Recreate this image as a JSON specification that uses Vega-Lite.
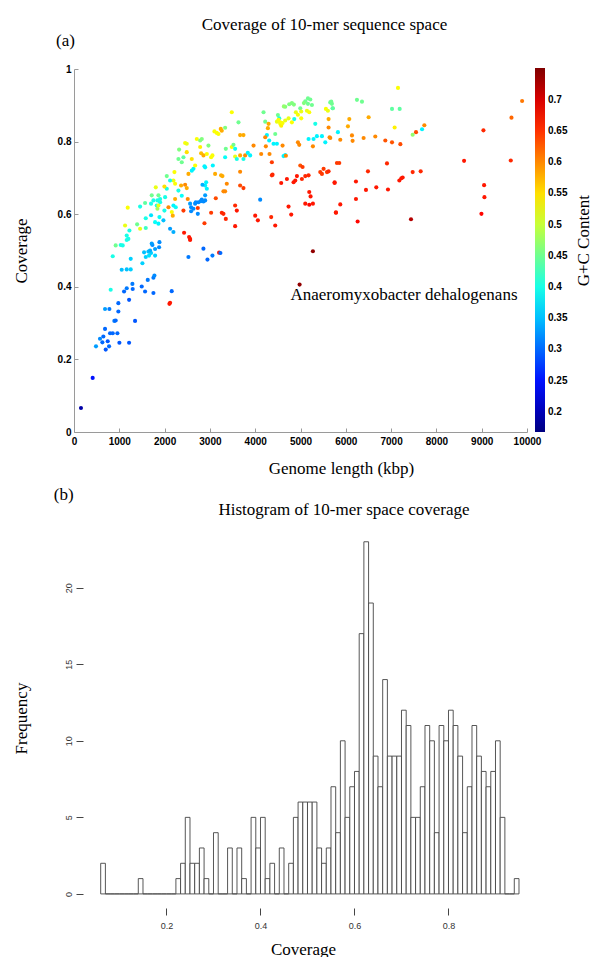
{
  "$schema": "https://vega.github.io/schema/vega-lite/v6.json",
  "background": "white",
  "padding": {"left": 12, "top": 15, "right": 0, "bottom": 0},
  "columns": 1,
  "align": "none",
  "spacing": 9,
  "config": {
    "view": {"stroke": null},
    "font": "Liberation Serif",
    "title": {"font": "Liberation Serif", "fontSize": 17, "fontWeight": "normal", "color": "black"},
    "axis": {"titleFont": "Liberation Serif", "titleFontSize": 17, "titleFontWeight": "normal", "titleColor": "black", "grid": false}
  },
  "datasets": {
    "genomes": [
      {"len":154,"cov":0.066,"gc":0.19},{"len":412,"cov":0.149,"gc":0.25},{"len":485,"cov":0.236,"gc":0.33},{"len":574,"cov":0.257,"gc":0.32},{"len":626,"cov":0.247,"gc":0.30},{"len":648,"cov":0.263,"gc":0.30},{"len":685,"cov":0.284,"gc":0.30},{"len":700,"cov":0.227,"gc":0.29},{"len":744,"cov":0.250,"gc":0.29},{"len":774,"cov":0.236,"gc":0.30},{"len":796,"cov":0.272,"gc":0.30},{"len":855,"cov":0.272,"gc":0.30},{"len":958,"cov":0.272,"gc":0.30},{"len":1002,"cov":0.246,"gc":0.29},{"len":1216,"cov":0.246,"gc":0.29},{"len":685,"cov":0.339,"gc":0.33},{"len":781,"cov":0.339,"gc":0.31},{"len":891,"cov":0.306,"gc":0.31},{"len":920,"cov":0.307,"gc":0.30},{"len":979,"cov":0.332,"gc":0.30},{"len":979,"cov":0.355,"gc":0.30},{"len":810,"cov":0.392,"gc":0.40},{"len":1105,"cov":0.387,"gc":0.30},{"len":1164,"cov":0.396,"gc":0.31},{"len":1216,"cov":0.364,"gc":0.29},{"len":1289,"cov":0.408,"gc":0.31},{"len":1296,"cov":0.394,"gc":0.30},{"len":1348,"cov":0.306,"gc":0.29},{"len":1495,"cov":0.401,"gc":0.30},{"len":1569,"cov":0.387,"gc":0.30},{"len":1628,"cov":0.419,"gc":0.31},{"len":1753,"cov":0.425,"gc":0.31},{"len":1775,"cov":0.431,"gc":0.32},{"len":1753,"cov":0.383,"gc":0.30},{"len":2157,"cov":0.388,"gc":0.30},{"len":2106,"cov":0.353,"gc":0.665},{"len":2121,"cov":0.356,"gc":0.665},{"len":1053,"cov":0.447,"gc":0.35},{"len":1164,"cov":0.448,"gc":0.35},{"len":1252,"cov":0.448,"gc":0.36},{"len":1252,"cov":0.477,"gc":0.36},{"len":1510,"cov":0.465,"gc":0.36},{"len":1584,"cov":0.482,"gc":0.36},{"len":1547,"cov":0.495,"gc":0.35},{"len":1643,"cov":0.497,"gc":0.35},{"len":1657,"cov":0.486,"gc":0.37},{"len":1701,"cov":0.493,"gc":0.36},{"len":1731,"cov":0.515,"gc":0.32},{"len":1790,"cov":0.504,"gc":0.33},{"len":1878,"cov":0.509,"gc":0.32},{"len":1886,"cov":0.523,"gc":0.32},{"len":1790,"cov":0.486,"gc":0.36},{"len":855,"cov":0.484,"gc":0.40},{"len":920,"cov":0.514,"gc":0.45},{"len":1031,"cov":0.515,"gc":0.40},{"len":1075,"cov":0.514,"gc":0.40},{"len":1164,"cov":0.529,"gc":0.40},{"len":2526,"cov":0.482,"gc":0.31},{"len":2563,"cov":0.529,"gc":0.665},{"len":2857,"cov":0.505,"gc":0.30},{"len":2946,"cov":0.475,"gc":0.30},{"len":3056,"cov":0.486,"gc":0.31},{"len":3203,"cov":0.494,"gc":0.665},{"len":3232,"cov":0.493,"gc":0.30},{"len":4980,"cov":0.406,"gc":0.74},{"len":5274,"cov":0.498,"gc":0.74},
      {"len":1127,"cov":0.569,"gc":0.52},{"len":1223,"cov":0.555,"gc":0.40},{"len":1164,"cov":0.541,"gc":0.40},{"len":1200,"cov":0.532,"gc":0.40},{"len":1186,"cov":0.618,"gc":0.53},{"len":1393,"cov":0.572,"gc":0.45},{"len":1459,"cov":0.560,"gc":0.52},{"len":1459,"cov":0.621,"gc":0.40},{"len":1569,"cov":0.631,"gc":0.44},{"len":1584,"cov":0.562,"gc":0.42},{"len":1584,"cov":0.589,"gc":0.40},{"len":1701,"cov":0.597,"gc":0.37},{"len":1716,"cov":0.519,"gc":0.33},{"len":1679,"cov":0.500,"gc":0.34},{"len":1790,"cov":0.578,"gc":0.39},{"len":1864,"cov":0.574,"gc":0.38},{"len":1886,"cov":0.592,"gc":0.39},{"len":1701,"cov":0.629,"gc":0.40},{"len":1753,"cov":0.638,"gc":0.40},{"len":1827,"cov":0.624,"gc":0.40},{"len":1842,"cov":0.638,"gc":0.40},{"len":1901,"cov":0.633,"gc":0.40},{"len":1901,"cov":0.642,"gc":0.40},{"len":1716,"cov":0.652,"gc":0.45},{"len":1805,"cov":0.674,"gc":0.52},{"len":1864,"cov":0.652,"gc":0.45},{"len":1842,"cov":0.615,"gc":0.48},{"len":1864,"cov":0.624,"gc":0.52},{"len":1996,"cov":0.610,"gc":0.40},{"len":2011,"cov":0.647,"gc":0.40},{"len":2048,"cov":0.670,"gc":0.40},{"len":1974,"cov":0.583,"gc":0.35},{"len":2121,"cov":0.560,"gc":0.33},{"len":2195,"cov":0.551,"gc":0.34},{"len":2048,"cov":0.705,"gc":0.45},{"len":1996,"cov":0.676,"gc":0.55},{"len":2159,"cov":0.606,"gc":0.53},{"len":2180,"cov":0.596,"gc":0.58},{"len":2085,"cov":0.619,"gc":0.60},{"len":2246,"cov":0.619,"gc":0.39},{"len":2232,"cov":0.642,"gc":0.58},{"len":2195,"cov":0.624,"gc":0.38},{"len":2217,"cov":0.716,"gc":0.53},{"len":2195,"cov":0.693,"gc":0.52},{"len":2121,"cov":0.693,"gc":0.40},{"len":2232,"cov":0.684,"gc":0.53},{"len":2305,"cov":0.752,"gc":0.45},{"len":2320,"cov":0.778,"gc":0.46},{"len":2416,"cov":0.757,"gc":0.44},{"len":2379,"cov":0.743,"gc":0.45},{"len":2453,"cov":0.796,"gc":0.53},{"len":2489,"cov":0.794,"gc":0.52},{"len":2489,"cov":0.771,"gc":0.55},{"len":2305,"cov":0.665,"gc":0.40},{"len":2364,"cov":0.679,"gc":0.58},{"len":2453,"cov":0.681,"gc":0.60},{"len":2379,"cov":0.651,"gc":0.39},{"len":2489,"cov":0.672,"gc":0.58},{"len":2511,"cov":0.642,"gc":0.60},{"len":2416,"cov":0.610,"gc":0.645},{"len":2430,"cov":0.549,"gc":0.665},{"len":2541,"cov":0.537,"gc":0.665},{"len":2563,"cov":0.532,"gc":0.665},{"len":2563,"cov":0.629,"gc":0.33},{"len":2637,"cov":0.615,"gc":0.32},{"len":2585,"cov":0.608,"gc":0.32},{"len":2674,"cov":0.629,"gc":0.32},{"len":2689,"cov":0.633,"gc":0.32},{"len":2733,"cov":0.601,"gc":0.32},{"len":2733,"cov":0.617,"gc":0.645},{"len":2748,"cov":0.633,"gc":0.32},{"len":2799,"cov":0.636,"gc":0.32},{"len":2821,"cov":0.640,"gc":0.32},{"len":2858,"cov":0.635,"gc":0.32},{"len":2895,"cov":0.638,"gc":0.32},{"len":2895,"cov":0.679,"gc":0.38},{"len":2836,"cov":0.681,"gc":0.34},{"len":2932,"cov":0.670,"gc":0.38},{"len":2585,"cov":0.619,"gc":0.32},{"len":2637,"cov":0.725,"gc":0.38},{"len":2600,"cov":0.720,"gc":0.38},{"len":2674,"cov":0.734,"gc":0.53},{"len":2600,"cov":0.752,"gc":0.55},{"len":2711,"cov":0.807,"gc":0.53},{"len":2785,"cov":0.803,"gc":0.46},{"len":2821,"cov":0.807,"gc":0.46},{"len":2785,"cov":0.785,"gc":0.54},{"len":2806,"cov":0.768,"gc":0.57},{"len":2858,"cov":0.762,"gc":0.58},{"len":2932,"cov":0.766,"gc":0.53},{"len":2968,"cov":0.789,"gc":0.46},{"len":2526,"cov":0.711,"gc":0.58},{"len":2895,"cov":0.729,"gc":0.38},{"len":2880,"cov":0.732,"gc":0.38},{"len":2917,"cov":0.688,"gc":0.38},{"len":2895,"cov":0.652,"gc":0.33},{"len":2880,"cov":0.575,"gc":0.645},{"len":3027,"cov":0.604,"gc":0.645},{"len":3064,"cov":0.734,"gc":0.38},{"len":3056,"cov":0.762,"gc":0.53},{"len":3027,"cov":0.757,"gc":0.53},{"len":3115,"cov":0.711,"gc":0.58},{"len":3130,"cov":0.644,"gc":0.635},{"len":3100,"cov":0.828,"gc":0.53},{"len":3152,"cov":0.824,"gc":0.53},{"len":3189,"cov":0.821,"gc":0.53},{"len":3240,"cov":0.835,"gc":0.58},{"len":3262,"cov":0.830,"gc":0.58},{"len":3336,"cov":0.838,"gc":0.46},{"len":3247,"cov":0.707,"gc":0.58},{"len":3277,"cov":0.705,"gc":0.58},{"len":3299,"cov":0.663,"gc":0.60},{"len":3336,"cov":0.663,"gc":0.60},{"len":3299,"cov":0.601,"gc":0.655},{"len":3262,"cov":0.604,"gc":0.655},{"len":3351,"cov":0.587,"gc":0.655},{"len":3336,"cov":0.757,"gc":0.39},{"len":3351,"cov":0.780,"gc":0.45},{"len":3373,"cov":0.684,"gc":0.60},{"len":3483,"cov":0.881,"gc":0.53},{"len":3631,"cov":0.853,"gc":0.45},{"len":3667,"cov":0.818,"gc":0.58},{"len":3483,"cov":0.785,"gc":0.53},{"len":3520,"cov":0.791,"gc":0.45},{"len":3557,"cov":0.780,"gc":0.39},{"len":3557,"cov":0.759,"gc":0.52},{"len":3594,"cov":0.752,"gc":0.40},{"len":3667,"cov":0.762,"gc":0.58},{"len":3667,"cov":0.717,"gc":0.60},{"len":3667,"cov":0.679,"gc":0.635},{"len":3741,"cov":0.672,"gc":0.645},{"len":3557,"cov":0.624,"gc":0.655},{"len":3594,"cov":0.610,"gc":0.665},{"len":3557,"cov":0.567,"gc":0.665},{"len":3741,"cov":0.818,"gc":0.58},{"len":3741,"cov":0.752,"gc":0.40},{"len":3778,"cov":0.762,"gc":0.60},{"len":3836,"cov":0.769,"gc":0.38},{"len":3889,"cov":0.762,"gc":0.38},{"len":3963,"cov":0.789,"gc":0.60},{"len":4000,"cov":0.596,"gc":0.665},{"len":4059,"cov":0.583,"gc":0.665},{"len":4110,"cov":0.640,"gc":0.32},{"len":4132,"cov":0.766,"gc":0.60},{"len":4184,"cov":0.881,"gc":0.45},{"len":4221,"cov":0.855,"gc":0.45},{"len":4258,"cov":0.818,"gc":0.38},{"len":4221,"cov":0.812,"gc":0.60},{"len":4235,"cov":0.787,"gc":0.60},{"len":4280,"cov":0.837,"gc":0.58},{"len":4295,"cov":0.849,"gc":0.58},{"len":4309,"cov":0.803,"gc":0.38},{"len":4316,"cov":0.766,"gc":0.60},{"len":4368,"cov":0.743,"gc":0.645},{"len":4368,"cov":0.707,"gc":0.655},{"len":4383,"cov":0.709,"gc":0.655},{"len":4353,"cov":0.592,"gc":0.655},{"len":4442,"cov":0.569,"gc":0.665},{"len":4405,"cov":0.794,"gc":0.38},{"len":4442,"cov":0.821,"gc":0.45},{"len":4501,"cov":0.873,"gc":0.45},{"len":4530,"cov":0.864,"gc":0.40},{"len":4553,"cov":0.853,"gc":0.53},{"len":4479,"cov":0.794,"gc":0.38},{"len":4574,"cov":0.686,"gc":0.665},{"len":4604,"cov":0.789,"gc":0.60},{"len":4626,"cov":0.760,"gc":0.38},{"len":4663,"cov":0.763,"gc":0.38},{"len":4677,"cov":0.761,"gc":0.60},{"len":4700,"cov":0.697,"gc":0.665},{"len":4736,"cov":0.621,"gc":0.665},{"len":4795,"cov":0.599,"gc":0.665},{"len":4847,"cov":0.688,"gc":0.665},{"len":4884,"cov":0.693,"gc":0.665},{"len":4921,"cov":0.705,"gc":0.665},{"len":4943,"cov":0.798,"gc":0.60},{"len":4972,"cov":0.791,"gc":0.60},{"len":4995,"cov":0.734,"gc":0.63},{"len":5046,"cov":0.730,"gc":0.645},{"len":5031,"cov":0.697,"gc":0.655},{"len":5105,"cov":0.705,"gc":0.655},{"len":5178,"cov":0.707,"gc":0.655},{"len":5105,"cov":0.629,"gc":0.665},{"len":5193,"cov":0.661,"gc":0.665},{"len":5222,"cov":0.649,"gc":0.665},{"len":5193,"cov":0.626,"gc":0.675},{"len":5274,"cov":0.629,"gc":0.665},{"len":5274,"cov":0.787,"gc":0.60},{"len":5178,"cov":0.807,"gc":0.38},{"len":5288,"cov":0.807,"gc":0.38},{"len":5362,"cov":0.815,"gc":0.38},{"len":5473,"cov":0.815,"gc":0.38},{"len":5436,"cov":0.716,"gc":0.645},{"len":5473,"cov":0.711,"gc":0.645},{"len":5510,"cov":0.725,"gc":0.645},{"len":5584,"cov":0.716,"gc":0.645},{"len":5642,"cov":0.812,"gc":0.60},{"len":5753,"cov":0.688,"gc":0.665},{"len":5782,"cov":0.604,"gc":0.665},{"len":5804,"cov":0.741,"gc":0.645},{"len":5326,"cov":0.849,"gc":0.40},{"len":4995,"cov":0.892,"gc":0.45},
      {"len":5164,"cov":0.919,"gc":0.45},{"len":5216,"cov":0.916,"gc":0.45},{"len":5105,"cov":0.911,"gc":0.45},{"len":5075,"cov":0.906,"gc":0.46},{"len":5252,"cov":0.901,"gc":0.45},{"len":5164,"cov":0.904,"gc":0.45},{"len":4810,"cov":0.906,"gc":0.46},{"len":4854,"cov":0.902,"gc":0.46},{"len":4751,"cov":0.903,"gc":0.46},{"len":4663,"cov":0.896,"gc":0.46},{"len":4633,"cov":0.897,"gc":0.47},{"len":4898,"cov":0.881,"gc":0.52},{"len":4943,"cov":0.874,"gc":0.53},{"len":5016,"cov":0.883,"gc":0.52},{"len":5142,"cov":0.885,"gc":0.52},{"len":5193,"cov":0.881,"gc":0.53},{"len":5016,"cov":0.864,"gc":0.53},{"len":4479,"cov":0.855,"gc":0.52},{"len":4515,"cov":0.860,"gc":0.53},{"len":4553,"cov":0.849,"gc":0.53},{"len":4574,"cov":0.844,"gc":0.54},{"len":4604,"cov":0.851,"gc":0.53},{"len":4663,"cov":0.858,"gc":0.52},{"len":4736,"cov":0.864,"gc":0.52},{"len":4810,"cov":0.853,"gc":0.53},{"len":4862,"cov":0.862,"gc":0.40},{"len":5561,"cov":0.890,"gc":0.53},{"len":5605,"cov":0.885,"gc":0.52},{"len":5656,"cov":0.908,"gc":0.45},{"len":5693,"cov":0.904,"gc":0.45},{"len":5715,"cov":0.892,"gc":0.45},{"len":5620,"cov":0.839,"gc":0.60},{"len":5547,"cov":0.798,"gc":0.38},
      {"len":5679,"cov":0.910,"gc":0.45},{"len":5708,"cov":0.892,"gc":0.44},{"len":6246,"cov":0.915,"gc":0.45},{"len":6357,"cov":0.910,"gc":0.45},{"len":7020,"cov":0.890,"gc":0.44},{"len":7189,"cov":0.890,"gc":0.44},{"len":7152,"cov":0.948,"gc":0.53},{"len":5620,"cov":0.862,"gc":0.58},{"len":6077,"cov":0.862,"gc":0.58},{"len":6504,"cov":0.867,"gc":0.58},{"len":6047,"cov":0.842,"gc":0.58},{"len":7078,"cov":0.839,"gc":0.54},{"len":5826,"cov":0.826,"gc":0.38},{"len":7734,"cov":0.845,"gc":0.60},{"len":7683,"cov":0.834,"gc":0.38},{"len":7550,"cov":0.826,"gc":0.635},{"len":7476,"cov":0.819,"gc":0.47},{"len":5657,"cov":0.810,"gc":0.60},{"len":5878,"cov":0.805,"gc":0.60},{"len":6136,"cov":0.817,"gc":0.60},{"len":6150,"cov":0.802,"gc":0.60},{"len":6393,"cov":0.810,"gc":0.60},{"len":6651,"cov":0.814,"gc":0.60},{"len":6872,"cov":0.803,"gc":0.63},{"len":7020,"cov":0.798,"gc":0.63},{"len":7204,"cov":0.793,"gc":0.635},{"len":5856,"cov":0.741,"gc":0.645},{"len":5620,"cov":0.718,"gc":0.655},{"len":5753,"cov":0.686,"gc":0.665},{"len":6224,"cov":0.690,"gc":0.665},{"len":6489,"cov":0.718,"gc":0.655},{"len":6909,"cov":0.740,"gc":0.655},{"len":7476,"cov":0.716,"gc":0.655},{"len":7653,"cov":0.718,"gc":0.655},{"len":7182,"cov":0.693,"gc":0.665},{"len":7226,"cov":0.699,"gc":0.665},{"len":7255,"cov":0.701,"gc":0.665},{"len":6445,"cov":0.667,"gc":0.665},{"len":6673,"cov":0.674,"gc":0.665},{"len":6931,"cov":0.668,"gc":0.665},{"len":6224,"cov":0.642,"gc":0.665},{"len":5878,"cov":0.627,"gc":0.665},{"len":5782,"cov":0.605,"gc":0.665},{"len":6261,"cov":0.580,"gc":0.675},{"len":7439,"cov":0.586,"gc":0.72},{"len":8611,"cov":0.747,"gc":0.665},{"len":9038,"cov":0.831,"gc":0.655},{"len":9053,"cov":0.680,"gc":0.665},{"len":9060,"cov":0.647,"gc":0.665},{"len":8994,"cov":0.601,"gc":0.675},{"len":9642,"cov":0.748,"gc":0.655},{"len":9657,"cov":0.866,"gc":0.62},{"len":9892,"cov":0.912,"gc":0.61}
    ],
    "bins": [
      {"lo":0.06,"hi":0.07,"n":2},{"lo":0.07,"hi":0.08,"n":0},{"lo":0.08,"hi":0.09,"n":0},{"lo":0.09,"hi":0.10,"n":0},{"lo":0.10,"hi":0.11,"n":0},{"lo":0.11,"hi":0.12,"n":0},{"lo":0.12,"hi":0.13,"n":0},{"lo":0.13,"hi":0.14,"n":0},{"lo":0.14,"hi":0.15,"n":1},{"lo":0.15,"hi":0.16,"n":0},{"lo":0.16,"hi":0.17,"n":0},{"lo":0.17,"hi":0.18,"n":0},{"lo":0.18,"hi":0.19,"n":0},{"lo":0.19,"hi":0.20,"n":0},{"lo":0.20,"hi":0.21,"n":0},{"lo":0.21,"hi":0.22,"n":0},{"lo":0.22,"hi":0.23,"n":1},{"lo":0.23,"hi":0.24,"n":2},{"lo":0.24,"hi":0.25,"n":5},{"lo":0.25,"hi":0.26,"n":2},{"lo":0.26,"hi":0.27,"n":2},{"lo":0.27,"hi":0.28,"n":3},{"lo":0.28,"hi":0.29,"n":1},{"lo":0.29,"hi":0.30,"n":0},{"lo":0.30,"hi":0.31,"n":4},{"lo":0.31,"hi":0.32,"n":0},{"lo":0.32,"hi":0.33,"n":0},{"lo":0.33,"hi":0.34,"n":3},{"lo":0.34,"hi":0.35,"n":0},{"lo":0.35,"hi":0.36,"n":3},{"lo":0.36,"hi":0.37,"n":1},{"lo":0.37,"hi":0.38,"n":0},{"lo":0.38,"hi":0.39,"n":5},{"lo":0.39,"hi":0.40,"n":3},{"lo":0.40,"hi":0.41,"n":5},{"lo":0.41,"hi":0.42,"n":1},{"lo":0.42,"hi":0.43,"n":2},{"lo":0.43,"hi":0.44,"n":0},{"lo":0.44,"hi":0.45,"n":3},{"lo":0.45,"hi":0.46,"n":0},{"lo":0.46,"hi":0.47,"n":2},{"lo":0.47,"hi":0.48,"n":5},{"lo":0.48,"hi":0.49,"n":6},{"lo":0.49,"hi":0.50,"n":6},{"lo":0.50,"hi":0.51,"n":6},{"lo":0.51,"hi":0.52,"n":6},{"lo":0.52,"hi":0.53,"n":3},{"lo":0.53,"hi":0.54,"n":2},{"lo":0.54,"hi":0.55,"n":3},{"lo":0.55,"hi":0.56,"n":7},{"lo":0.56,"hi":0.57,"n":4},{"lo":0.57,"hi":0.58,"n":10},{"lo":0.58,"hi":0.59,"n":5},{"lo":0.59,"hi":0.60,"n":7},{"lo":0.60,"hi":0.61,"n":8},{"lo":0.61,"hi":0.62,"n":17},{"lo":0.62,"hi":0.63,"n":23},{"lo":0.63,"hi":0.64,"n":19},{"lo":0.64,"hi":0.65,"n":9},{"lo":0.65,"hi":0.66,"n":7},{"lo":0.66,"hi":0.67,"n":14},{"lo":0.67,"hi":0.68,"n":9},{"lo":0.68,"hi":0.69,"n":9},{"lo":0.69,"hi":0.70,"n":9},{"lo":0.70,"hi":0.71,"n":12},{"lo":0.71,"hi":0.72,"n":11},{"lo":0.72,"hi":0.73,"n":5},{"lo":0.73,"hi":0.74,"n":5},{"lo":0.74,"hi":0.75,"n":7},{"lo":0.75,"hi":0.76,"n":11},{"lo":0.76,"hi":0.77,"n":10},{"lo":0.77,"hi":0.78,"n":4},{"lo":0.78,"hi":0.79,"n":11},{"lo":0.79,"hi":0.80,"n":10},{"lo":0.80,"hi":0.81,"n":12},{"lo":0.81,"hi":0.82,"n":11},{"lo":0.82,"hi":0.83,"n":9},{"lo":0.83,"hi":0.84,"n":4},{"lo":0.84,"hi":0.85,"n":7},{"lo":0.85,"hi":0.86,"n":11},{"lo":0.86,"hi":0.87,"n":9},{"lo":0.87,"hi":0.88,"n":8},{"lo":0.88,"hi":0.89,"n":7},{"lo":0.89,"hi":0.90,"n":8},{"lo":0.90,"hi":0.91,"n":10},{"lo":0.91,"hi":0.92,"n":5},{"lo":0.92,"hi":0.93,"n":0},{"lo":0.93,"hi":0.94,"n":0},{"lo":0.94,"hi":0.95,"n":1}
    ]
  },
  "concat": [
    {
      "width": 453,
      "height": 363,
      "title": {"text": "Coverage of 10-mer sequence space", "anchor": "middle", "frame": "group", "dx": 24, "offset": -2},
      "layer": [
        {
          "data": {"name": "genomes"},
          "mark": {"type": "circle", "size": 17, "opacity": 1},
          "encoding": {
            "x": {"field": "len", "type": "quantitative", "scale": {"domain": [0, 10000], "nice": false, "zero": false},
              "axis": {"title": "Genome length (kbp)", "values": [0,1000,2000,3000,4000,5000,6000,7000,8000,9000,10000], "format": "d",
                "labelFont": "Liberation Sans", "labelFontWeight": "bold", "labelFontSize": 10, "labelColor": "black", "labelFlush": false, "labelOverlap": false,
                "domainColor": "#9a9a9a", "tickColor": "#9a9a9a", "tickSize": -4, "labelPadding": 8,
                "titleX": 267, "titleY": 41, "titleBaseline": "alphabetic", "titleAlign": "center"}},
            "y": {"field": "cov", "type": "quantitative", "scale": {"domain": [0, 1], "nice": false, "zero": false},
              "axis": {"title": "Coverage", "values": [0,0.1,0.2,0.3,0.4,0.5,0.6,0.7,0.8,0.9,1], "labelExpr": "format(datum.value, '.1~f')",
                "labelFont": "Liberation Sans", "labelFontWeight": "bold", "labelFontSize": 10, "labelColor": "black", "labelOverlap": false,
                "domainColor": "#9a9a9a", "tickColor": "#9a9a9a", "tickSize": -4, "labelPadding": 7,
                "titleX": -48, "titleBaseline": "alphabetic"}},
            "color": {"field": "gc", "type": "quantitative",
              "scale": {"domain": [0.1675, 0.2404, 0.3863, 0.5322, 0.6781, 0.751], "range": ["#00007f", "#0000ff", "#00ffff", "#ffff00", "#ff0000", "#7f0000"], "interpolate": "rgb"},
              "legend": {"title": null, "orient": "none", "legendX": 461, "legendY": -1, "direction": "vertical", "gradientLength": 364, "gradientThickness": 10,
                "values": [0.2,0.25,0.3,0.35,0.4,0.45,0.5,0.55,0.6,0.65,0.7], "labelExpr": "format(datum.value, '.2~f')", "labelOverlap": false,
                "labelFont": "Liberation Sans", "labelFontWeight": "bold", "labelFontSize": 10, "labelColor": "black", "labelOffset": 3,
                "gradientStrokeWidth": 0}}
          }
        },
        {
          "data": {"values": [{"label": "Anaeromyxobacter dehalogenans", "len": 4779, "cov": 0.364}]},
          "mark": {"type": "text", "align": "left", "baseline": "alphabetic", "font": "Liberation Serif", "fontSize": 17, "color": "black"},
          "encoding": {"x": {"field": "len", "type": "quantitative"}, "y": {"field": "cov", "type": "quantitative"}, "text": {"field": "label"}}
        },
        {
          "data": {"values": [{"label": "G+C Content", "len": 11253, "cov": 0.527}]},
          "mark": {"type": "text", "align": "center", "baseline": "middle", "angle": 270, "font": "Liberation Serif", "fontSize": 17, "color": "black", "clip": false},
          "encoding": {"x": {"field": "len", "type": "quantitative"}, "y": {"field": "cov", "type": "quantitative"}, "text": {"field": "label"}}
        },
        {
          "data": {"values": [{"label": "(a)", "len": -398, "cov": 1.064}]},
          "mark": {"type": "text", "align": "left", "baseline": "alphabetic", "font": "Liberation Serif", "fontSize": 17, "color": "black", "clip": false},
          "encoding": {"x": {"field": "len", "type": "quantitative"}, "y": {"field": "cov", "type": "quantitative"}, "text": {"field": "label"}}
        }
      ]
    },
    {
      "width": 462,
      "height": 380,
      "title": {"text": "Histogram of 10-mer space coverage", "anchor": "middle", "frame": "group", "dx": 39, "offset": -33},
      "layer": [
        {
          "data": {"name": "bins"},
          "mark": {"type": "rect", "fill": "white", "stroke": "#444444", "strokeWidth": 0.9},
          "encoding": {
            "x": {"field": "lo", "type": "quantitative", "scale": {"domain": [0.0032, 0.9862], "nice": false, "zero": false},
              "axis": {"title": "Coverage", "values": [0.2, 0.4, 0.6, 0.8], "format": ".1f", "domain": false,
                "labelFont": "Liberation Sans", "labelFontSize": 9, "labelColor": "#333333", "tickColor": "#444444", "tickSize": 7, "labelPadding": 6,
                "titleX": 229, "titleY": 46, "titleBaseline": "alphabetic", "titleAlign": "center"}},
            "x2": {"field": "hi"},
            "y": {"field": "n", "type": "quantitative", "scale": {"domain": [-0.92, 23.9], "nice": false, "zero": false},
              "axis": {"title": "Frequency", "values": [0, 5, 10, 15, 20], "format": "d", "domain": false, "offset": -9,
                "labelFont": "Liberation Sans", "labelFontSize": 9, "labelColor": "#333333", "tickColor": "#444444", "tickSize": 7, "labelPadding": 3,
                "labelAngle": 270, "labelAlign": "center", "labelBaseline": "bottom",
                "titleX": -57, "titleBaseline": "alphabetic"}},
            "y2": {"datum": 0}
          }
        },
        {
          "mark": {"type": "rule", "color": "#444444", "strokeWidth": 1},
          "encoding": {"x": {"datum": 0.0223, "type": "quantitative"}, "y": {"datum": 0, "type": "quantitative"}, "y2": {"datum": 20}}
        },
        {
          "mark": {"type": "rule", "color": "#444444", "strokeWidth": 1},
          "encoding": {"x": {"datum": 0.2, "type": "quantitative"}, "x2": {"datum": 0.8}, "y": {"datum": -0.92, "type": "quantitative"}}
        },
        {
          "data": {"values": [{"label": "(b)", "c": -0.0398, "n": 25.73}]},
          "mark": {"type": "text", "align": "left", "baseline": "alphabetic", "font": "Liberation Serif", "fontSize": 17, "color": "black", "clip": false},
          "encoding": {"x": {"field": "c", "type": "quantitative"}, "y": {"field": "n", "type": "quantitative"}, "text": {"field": "label"}}
        }
      ]
    }
  ]
}
